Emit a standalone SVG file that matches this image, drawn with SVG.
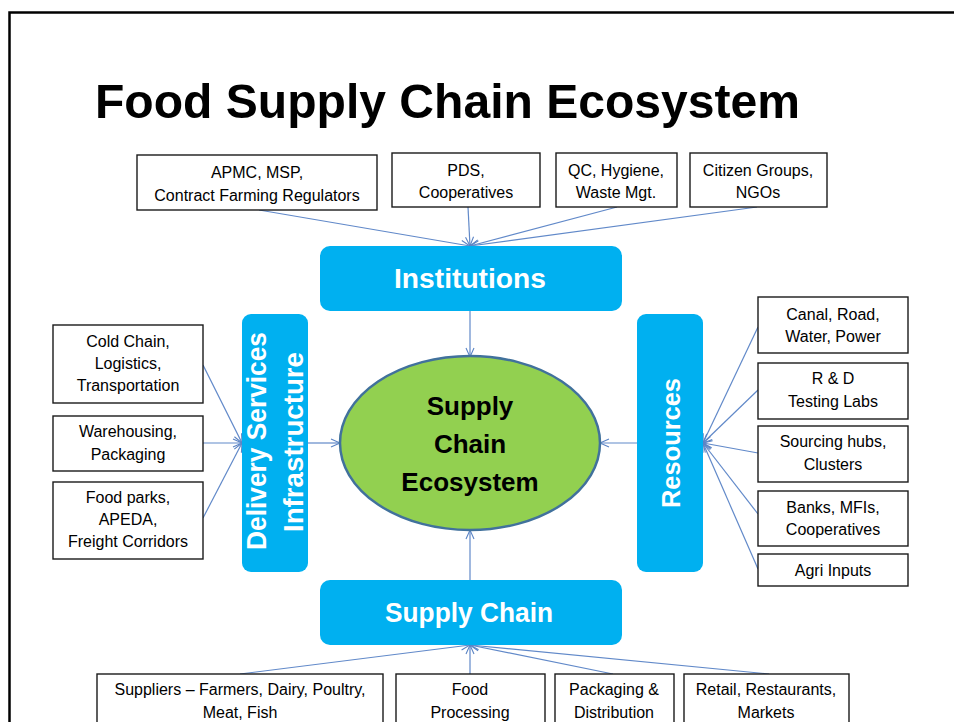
<svg xmlns="http://www.w3.org/2000/svg" width="954" height="722" viewBox="0 0 954 722">
  <defs>
    <marker id="arr" markerUnits="userSpaceOnUse" markerWidth="12" markerHeight="12" refX="10" refY="5" orient="auto">
      <path d="M1,1 L10,5 L1,9" fill="none" stroke="#5b84c4" stroke-width="1.1"/>
    </marker>
  </defs>
  <style>
    .box { fill: #ffffff; stroke: #1a1a1a; stroke-width: 1.4; }
    .shadow { fill: none; stroke: #bfbfbf; stroke-width: 1.5; }
    .lbl { font-family: "Liberation Sans", Arial, sans-serif; font-size: 16px; fill: #000; text-anchor: middle; }
    .blue { fill: #00b0f0; }
    .wt { font-family: "Liberation Sans", Arial, sans-serif; font-weight: bold; fill: #ffffff; text-anchor: middle; }
    .ct { font-family: "Liberation Sans", Arial, sans-serif; font-weight: bold; font-size: 26px; fill: #000; text-anchor: middle; }
    .con { stroke: #6189c9; stroke-width: 1.2; fill: none; marker-end: url(#arr); }
  </style>
  <rect width="954" height="722" fill="#ffffff"/>
  <path d="M9.5,722 V12.5 H954" fill="none" stroke="#000" stroke-width="2.5"/>
  <text x="95" y="118" font-family="Liberation Sans, Arial, sans-serif" font-weight="bold" font-size="48" textLength="705" lengthAdjust="spacingAndGlyphs">Food Supply Chain Ecosystem</text>

  <g id="connectors">
    <path class="con" d="M259,210 L470,246"/>
    <path class="con" d="M468,207 L470,246"/>
    <path class="con" d="M617,207 L470,246"/>
    <path class="con" d="M757,207 L470,246"/>
    <path class="con" d="M470,311 L470,357"/>
    <path class="con" d="M203,365 L242,443"/>
    <path class="con" d="M203,443 L242,443"/>
    <path class="con" d="M203,518 L242,443"/>
    <path class="con" d="M308,443 L340,443"/>
    <path class="con" d="M758,327 L703,443"/>
    <path class="con" d="M758,390 L703,443"/>
    <path class="con" d="M758,453 L703,443"/>
    <path class="con" d="M758,514 L703,443"/>
    <path class="con" d="M758,569 L703,443"/>
    <path class="con" d="M637,443 L600,443"/>
    <path class="con" d="M240,674 L470,645"/>
    <path class="con" d="M470,674 L470,645"/>
    <path class="con" d="M613,674 L470,645"/>
    <path class="con" d="M769,674 L470,645"/>
    <path class="con" d="M470,580 L470,530"/>
  </g>

  <g id="ecosystem">
    <ellipse cx="470" cy="443" rx="130" ry="87" fill="#92d050" stroke="#41719c" stroke-width="2.5"/>
    <text class="ct" x="470" y="415">Supply</text>
    <text class="ct" x="470" y="453">Chain</text>
    <text class="ct" x="470" y="491">Ecosystem</text>
  </g>

  <g id="institutions">
    <rect class="blue" x="320" y="246" width="302" height="65" rx="10"/>
    <text class="wt" x="470" y="288" font-size="27" textLength="152" lengthAdjust="spacingAndGlyphs">Institutions</text>
  </g>
  <g id="supply-chain">
    <rect class="blue" x="320" y="580" width="302" height="65" rx="10"/>
    <text class="wt" x="469" y="622" font-size="27" textLength="168" lengthAdjust="spacingAndGlyphs">Supply Chain</text>
  </g>
  <g id="delivery">
    <rect class="blue" x="242" y="314" width="66" height="258" rx="9"/>
    <text class="wt" transform="translate(266,441) rotate(-90)" font-size="27" textLength="218" lengthAdjust="spacingAndGlyphs">Delivery Services</text>
    <text class="wt" transform="translate(303,442) rotate(-90)" font-size="27" textLength="180" lengthAdjust="spacingAndGlyphs">Infrastructure</text>
  </g>
  <g id="resources">
    <rect class="blue" x="637" y="314" width="66" height="258" rx="9"/>
    <text class="wt" transform="translate(680,443) rotate(-90)" font-size="26" textLength="130" lengthAdjust="spacingAndGlyphs">Resources</text>
  </g>

  <g id="apmc">
    <rect class="box" x="137" y="155" width="240" height="55"/>
    <text class="lbl" x="257" y="178">APMC, MSP,</text>
    <text class="lbl" x="257" y="201">Contract Farming Regulators</text>
  </g>
  <g id="pds">
    <rect class="box" x="392" y="153" width="148" height="54"/>
    <text class="lbl" x="466" y="176">PDS,</text>
    <text class="lbl" x="466" y="198">Cooperatives</text>
  </g>
  <g id="qc">
    <rect class="box" x="556" y="153" width="121" height="54"/>
    <text class="lbl" x="616" y="176">QC, Hygiene,</text>
    <text class="lbl" x="616" y="198">Waste Mgt.</text>
  </g>
  <g id="citizen">
    <rect class="box" x="690" y="153" width="137" height="54"/>
    <text class="lbl" x="758" y="176">Citizen Groups,</text>
    <text class="lbl" x="758" y="198">NGOs</text>
  </g>

  <g id="cold-chain">
    <rect class="box" x="53" y="325" width="150" height="78"/>
    <text class="lbl" x="128" y="347">Cold Chain,</text>
    <text class="lbl" x="128" y="369">Logistics,</text>
    <text class="lbl" x="128" y="391">Transportation</text>
  </g>
  <g id="warehousing">
    <rect class="box" x="53" y="416" width="150" height="55"/>
    <text class="lbl" x="128" y="437">Warehousing,</text>
    <text class="lbl" x="128" y="460">Packaging</text>
  </g>
  <g id="food-parks">
    <rect class="box" x="53" y="482" width="150" height="77"/>
    <text class="lbl" x="128" y="503">Food parks,</text>
    <text class="lbl" x="128" y="525">APEDA,</text>
    <text class="lbl" x="128" y="547">Freight Corridors</text>
  </g>

  <g id="canal">
    <rect class="box" x="758" y="297" width="150" height="56"/>
    <text class="lbl" x="833" y="320">Canal, Road,</text>
    <text class="lbl" x="833" y="342">Water, Power</text>
  </g>
  <g id="rnd">
    <rect class="box" x="758" y="363" width="150" height="56"/>
    <text class="lbl" x="833" y="384">R &amp; D</text>
    <text class="lbl" x="833" y="407">Testing Labs</text>
  </g>
  <g id="sourcing">
    <rect class="box" x="758" y="426" width="150" height="56"/>
    <text class="lbl" x="833" y="447">Sourcing hubs,</text>
    <text class="lbl" x="833" y="470">Clusters</text>
  </g>
  <g id="banks">
    <rect class="box" x="758" y="491" width="150" height="55"/>
    <text class="lbl" x="833" y="513">Banks, MFIs,</text>
    <text class="lbl" x="833" y="535">Cooperatives</text>
  </g>
  <g id="agri">
    <rect class="box" x="758" y="554" width="150" height="32"/>
    <text class="lbl" x="833" y="576">Agri Inputs</text>
  </g>

  <g id="suppliers">
    <rect class="box" x="97" y="674" width="286" height="60"/>
    <text class="lbl" x="240" y="695">Suppliers – Farmers, Dairy, Poultry,</text>
    <text class="lbl" x="240" y="718">Meat, Fish</text>
  </g>
  <g id="food-processing">
    <rect class="box" x="396" y="674" width="149" height="60"/>
    <text class="lbl" x="470" y="695">Food</text>
    <text class="lbl" x="470" y="718">Processing</text>
  </g>
  <g id="packaging">
    <rect class="box" x="555" y="674" width="119" height="60"/>
    <text class="lbl" x="614" y="695">Packaging &amp;</text>
    <text class="lbl" x="614" y="718">Distribution</text>
  </g>
  <g id="retail">
    <rect class="box" x="684" y="674" width="165" height="60"/>
    <text class="lbl" x="766" y="695">Retail, Restaurants,</text>
    <text class="lbl" x="766" y="718">Markets</text>
  </g>
</svg>
